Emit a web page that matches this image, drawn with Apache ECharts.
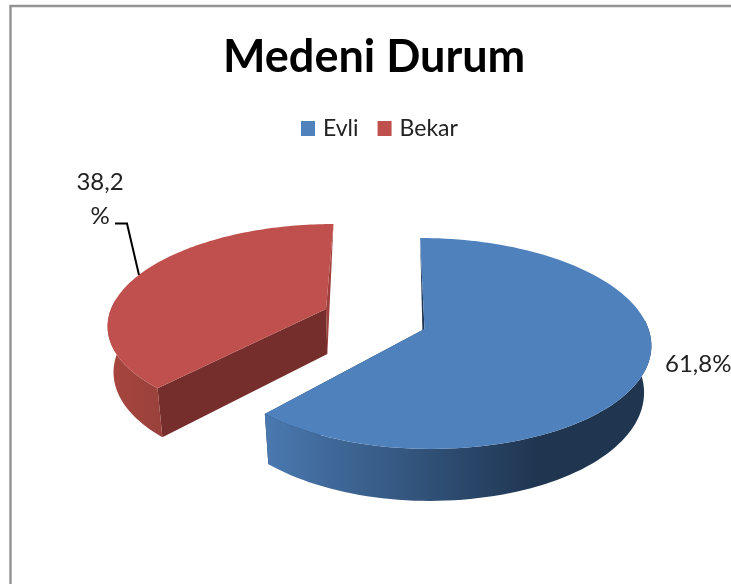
<!DOCTYPE html>
<html>
<head>
<meta charset="utf-8">
<title>Medeni Durum</title>
<style>
html, body { margin: 0; padding: 0; background: #fff; overflow: hidden; }
#main { width: 731px; height: 584px; }
</style>
<script src="https://cdn.jsdelivr.net/npm/echarts@6/dist/echarts.min.js"></script>
</head>
<body>
<div id="main"></div>
<script>
var titleText = 'Medeni Durum';
var categories = ['Evli', 'Bekar'];
var percents = [61.8, 38.2];

var FONT = 'Lato, "Open Sans", sans-serif';
var colors = ['#4f81bd', '#c0504d'];

// perspective of the tilted pie
var K = 0.137;
var X0 = 388;

var sliceLayout = [
    {
        ax: 424.5, ay: 329, g: 103.5, fl: 218, fr: 224, lean: 0.972,
        sideFrom: 265, sideTo: 540,
        sideStops: ['#4a79b0', '#1f3550'],
        startFace: '#1f3552', endFace: '#1f3552',
        labelX: 665, labelY: 364, wrap: false, leader: null
    },
    {
        ax: 326, ay: 309, g: 96.6, fl: 215, fr: 215, lean: 0.979,
        sideFrom: 107, sideTo: 162,
        sideStops: ['#a8463f', '#9a413c'],
        startFace: '#762e2c', endFace: '#a0403c',
        labelX: 100, labelY: 165, wrap: true,
        leader: [[115, 223.5], [127, 223.5], [139, 275]]
    }
];

function project(s, theta) {
    var u = Math.sin(theta), v = Math.cos(theta);
    var f = u < 0 ? s.fl : s.fr;
    var den = 1 + K * v;
    return [X0 + (s.ax - X0 + f * u) / den, s.ay - s.g * v / den];
}

// same point on the underside of the pie
function lower(s, p) {
    return [390 + (p[0] - 390) * s.lean, p[1] + 45 + 0.05 * (p[1] - 309)];
}

function labelText(value) {
    return value.toFixed(1).replace('.', ',') + '%';
}

// cut face of a slice, the ones at the back only show as a thin sliver
function cutFace(s, theta) {
    var apex = [s.ax, s.ay];
    var p = project(s, theta);
    if (Math.cos(theta) > 0) {
        return [apex, p, lower(s, apex)];
    }
    return [apex, p, lower(s, p), lower(s, apex)];
}

function sliceRenderer(index) {
    return function (params, api) {
        var total = 0, before = 0;
        for (var i = 0; i < percents.length; i++) {
            total += percents[i];
            if (i < index) before += percents[i];
        }
        var value = api.value(0);
        var a0 = before / total * Math.PI * 2;
        var a1 = (before + value) / total * Math.PI * 2;
        var s = sliceLayout[index];

        var arc = [], front = [];
        var steps = 120;
        for (var n = 0; n <= steps; n++) {
            var theta = a0 + (a1 - a0) * n / steps;
            var p = project(s, theta);
            arc.push(p);
            // outer wall is only seen on the near half
            if (Math.cos(theta) < 0.1) front.push(p);
        }
        var bottom = front.map(function (pt) { return lower(s, pt); });
        var side = front.concat(bottom.reverse());

        var children = [
            { type: 'polygon', shape: { points: cutFace(s, a1) }, style: { fill: s.endFace } },
            { type: 'polygon', shape: { points: cutFace(s, a0) }, style: { fill: s.startFace } },
            {
                type: 'polygon',
                shape: { points: side },
                style: {
                    fill: new echarts.graphic.LinearGradient(s.sideFrom, 0, s.sideTo, 0, [
                        { offset: 0, color: s.sideStops[0] },
                        { offset: 1, color: s.sideStops[1] }
                    ], true)
                }
            },
            { type: 'polygon', shape: { points: [[s.ax, s.ay]].concat(arc) }, style: { fill: colors[index] } }
        ];

        var text = labelText(value);
        if (s.wrap) {
            text = text.replace('%', '\n%');
        }
        children.push({
            type: 'text',
            style: {
                text: text, x: s.labelX, y: s.labelY,
                fill: '#222', font: '24px ' + FONT,
                lineHeight: 34,
                align: s.wrap ? 'center' : 'left',
                verticalAlign: s.wrap ? 'top' : 'middle'
            }
        });
        if (s.leader) {
            children.push({
                type: 'polyline',
                shape: { points: s.leader },
                style: { stroke: '#000', lineWidth: 2, fill: 'none' }
            });
        }
        return { type: 'group', children: children };
    };
}

var myChart = echarts.init(document.getElementById('main'));

var series = [];
for (var i = 0; i < categories.length; i++) {
    series.push({
        name: categories[i],
        type: 'custom',
        coordinateSystem: 'none',
        renderItem: sliceRenderer(i),
        data: [percents[i]],
        itemStyle: { color: colors[i] },
        silent: true,
        animation: false
    });
}

var option = {
    animation: false,
    backgroundColor: '#fff',
    color: colors,
    title: {
        text: titleText,
        left: 218,
        top: 30,
        textStyle: { fontFamily: FONT, fontWeight: 'bold', fontSize: 45, color: '#000' }
    },
    legend: {
        data: categories,
        left: 296,
        top: 112,
        icon: 'rect',
        itemWidth: 14,
        itemHeight: 15,
        itemGap: 19,
        selectedMode: false,
        textStyle: { fontFamily: FONT, fontSize: 23, color: '#222', padding: [0, 0, 0, 3] }
    },
    graphic: [
        {
            type: 'polyline',
            silent: true,
            shape: { points: [[10.5, 584], [10.5, 6], [731, 6]] },
            style: { stroke: '#939393', lineWidth: 2.4, fill: 'none' }
        }
    ],
    series: series
};

myChart.setOption(option);
</script>
</body>
</html>
